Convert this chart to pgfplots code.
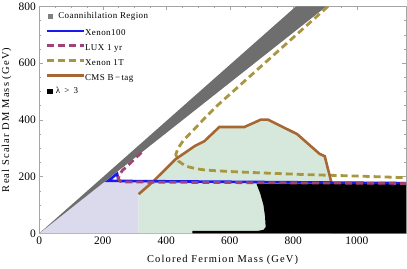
\documentclass[border=0pt]{standalone}
\usepackage{fontspec}
\setmainfont{Liberation Serif}
\usepackage{pgfplots}
\pgfplotsset{compat=1.18}

\definecolor{lav}{RGB}{218,218,236}
\definecolor{grn}{RGB}{214,232,220}
\definecolor{bandc}{RGB}{110,110,110}
\definecolor{xblue}{RGB}{25,25,235}
\definecolor{lux}{RGB}{160,68,120}
\definecolor{xone}{RGB}{168,150,66}
\definecolor{cms}{RGB}{166,104,51}
\definecolor{framec}{RGB}{165,165,165}

\begin{document}
\begin{tikzpicture}
\begin{axis}[
  scale only axis, width=367bp, height=227bp,
  xmin=0, xmax=1155, ymin=0, ymax=800,
  xtick={0,200,...,1000}, ytick={0,200,...,800},
  minor x tick num=3, minor y tick num=3,
  tick align=inside,
  major tick length=4bp, minor tick length=2bp,
  axis line style={framec, line width=0.6pt},
  tick style={framec, line width=0.5pt},
  tick label style={font=\fontsize{11.5}{13}\selectfont},
  /pgf/number format/assume math mode=true,
  /pgf/number format/1000 sep={},
  xlabel={Colored Fermion Mass (GeV)},
  ylabel={Real Scalar DM Mass (GeV)},
  every axis x label/.style={at={(axis description cs:0.5,-0.119)}, anchor=center},
  every axis y label/.style={at={(axis description cs:-0.0888,0.5)}, rotate=90, anchor=center},
  label style={font=\fontsize{10.5}{12}\selectfont\addfontfeatures{LetterSpace=11}},
  legend style={draw=none, fill=none, at={(axis description cs:0,1)}, anchor=north west,
    xshift=6bp, yshift=-7.3bp, inner sep=0pt, outer sep=0pt,
    font=\fontsize{9}{10}\selectfont\addfontfeatures{LetterSpace=5},
    row sep=6.4bp, nodes={inner sep=0pt, text height=6.5bp, text depth=2bp},
    /tikz/every even column/.append style={column sep=6.5bp}},
  legend cell align=left,
  legend image code/.code={\draw[#1] (0bp,2.8bp) -- (37bp,2.8bp);},
]
% lavender region
\addplot[fill=lav, draw=none, forget plot] coordinates {(0,0) (212,187.6) (356,181) (313,138) (313,0)} -- cycle;
% green region (CMS excluded)
\addplot[fill=grn, draw=none, forget plot] coordinates {(313,0) (313,138) (356,180) (430,262) (490,308) (520,325) (567,375) (646,375) (698,401) (720,401) (812,350) (883,280) (899,272) (920,179) (920,0)} -- cycle;
% lambda > 3 region
\addplot[fill=black, draw=none, forget plot] coordinates {(482,0) (482,9) (690,9) (706,12) (713,22) (711,60) (706,100) (696,140) (684,175) (1160,175) (1160,0)} -- cycle;
% coannihilation band
\addplot[fill=bandc, draw=none, forget plot] coordinates {(0,0) (808,800) (904,800)} -- cycle;
% Xenon 1T
\addplot[xone, line width=2.8bp, dash pattern=on 7bp off 4bp, forget plot] coordinates {(909,800) (560,450) (520,405) (482,360) (456,331) (437,300) (430,278) (438,255) (461,237) (493,228) (524,223) (598,218) (700,213) (841,207) (1000,202) (1160,196)};
% CMS B-tag
\addplot[cms, line width=2.6bp, forget plot] coordinates {(313,138) (356,180) (430,262) (490,308) (520,325) (567,375) (646,375) (698,401) (720,401) (812,350) (883,280) (899,272) (920,179)};
% Xenon100
\addplot[xblue, line width=2.6bp, forget plot] coordinates {(250,185) (245,210) (217,185) (1160,177)};
% LUX 1 yr
\addplot[lux, line width=2.8bp, dash pattern=on 7bp off 4bp, forget plot] coordinates {(322,285) (300,262) (280,240) (262,222) (252,206) (249,192) (256,183) (275,181) (600,179) (1160,176)};

% legend
\addlegendimage{legend image code/.code={\fill[gray] (1.6bp,0.8bp) rectangle (5.6bp,4.8bp); \node[overlay, anchor=base west, inner sep=0pt, font=\fontsize{9}{10}\selectfont\addfontfeatures{LetterSpace=5}] at (11.6bp,0bp) {Coannihilation Region};}}
\addlegendentry{\phantom{x}}
\addlegendimage{xblue, line width=2.6bp}
\addlegendentry{Xenon100}
\addlegendimage{lux, line width=2.8bp, dash pattern=on 7bp off 4bp}
\addlegendentry{LUX 1 yr}
\addlegendimage{xone, line width=2.8bp, dash pattern=on 7bp off 4bp}
\addlegendentry{Xenon 1T}
\addlegendimage{cms, line width=2.6bp}
\addlegendentry{CMS B\,−\,tag}
\addlegendimage{legend image code/.code={\fill[black] (1bp,0.4bp) rectangle (5.4bp,4.8bp); \node[overlay, anchor=base west, inner sep=0pt, font=\fontsize{9}{10}\selectfont\addfontfeatures{LetterSpace=5}] at (9.3bp,0bp) {λ \,>\, 3};}}
\addlegendentry{\phantom{x}}
\end{axis}
\pgfresetboundingbox
\path (current axis.south west) +(-39.3bp,-35.3bp) (current axis.north east) +(1bp,6.5bp);
\end{tikzpicture}
\end{document}
